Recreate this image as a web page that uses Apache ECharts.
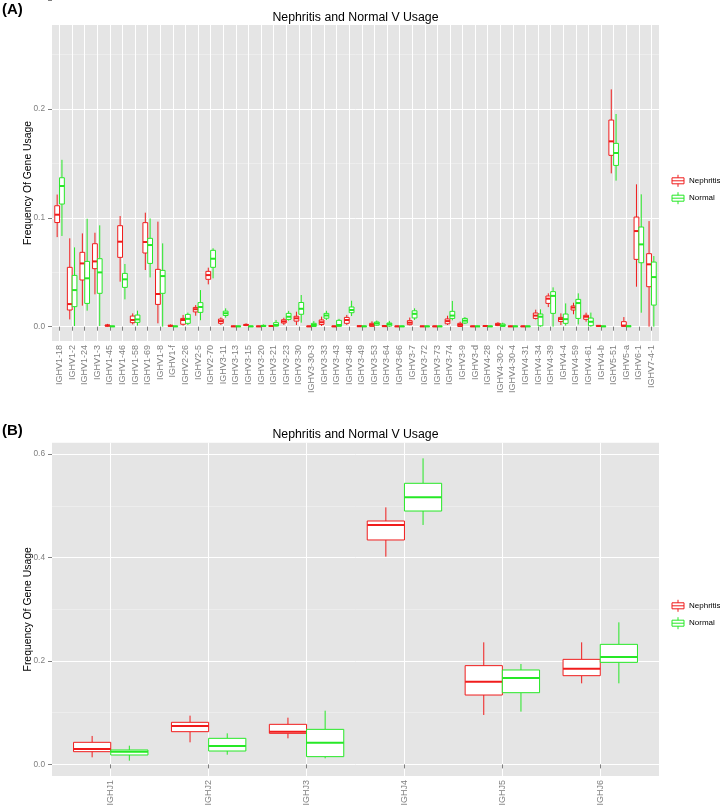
<!DOCTYPE html>
<html><head><meta charset="utf-8">
<script src="https://cdn.jsdelivr.net/npm/echarts@6/dist/echarts.min.js"></script>
<style>html,body{margin:0;padding:0;background:#fff}#c{width:720px;height:812px}</style>
</head><body><div id="c"></div>
<script>
// ---------- DATA ----------
const vGenes = ['IGHV1-18','IGHV1-2','IGHV1-24','IGHV1-3','IGHV1-45','IGHV1-46','IGHV1-58','IGHV1-69','IGHV1-8','IGHV1-f',
  'IGHV2-26','IGHV2-5','IGHV2-70','IGHV3-11','IGHV3-13','IGHV3-15','IGHV3-20','IGHV3-21','IGHV3-23','IGHV3-30',
  'IGHV3-30-3','IGHV3-33','IGHV3-43','IGHV3-48','IGHV3-49','IGHV3-53','IGHV3-64','IGHV3-66','IGHV3-7','IGHV3-72',
  'IGHV3-73','IGHV3-74','IGHV3-9','IGHV3-d','IGHV4-28','IGHV4-30-2','IGHV4-30-4','IGHV4-31','IGHV4-34','IGHV4-39',
  'IGHV4-4','IGHV4-59','IGHV4-61','IGHV4-b','IGHV5-51','IGHV5-a','IGHV6-1','IGHV7-4-1'];
// [lower whisker, Q1, median, Q3, upper whisker]
const nephritisV = [
  [0.080,0.093,0.100,0.108,0.118],[0.0065,0.0149,0.0202,0.053,0.0789],[0.0188,0.0417,0.0565,0.0664,0.0833],
  [0.0289,0.0518,0.0583,0.0741,0.0839],[0,0.0005,0.001,0.0015,0.0025],[0.0402,0.0619,0.0759,0.0902,0.0988],
  [0.002,0.0036,0.006,0.0095,0.0119],[0.0506,0.0658,0.0756,0.0929,0.1018],[0.003,0.0199,0.0292,0.0512,0.0938],
  [0,0.0004,0.0008,0.0012,0.002],[0.001,0.0022,0.006,0.0074,0.0105],[0.0098,0.0132,0.0156,0.0172,0.0193],
  [0.0378,0.0423,0.0461,0.0494,0.0527],[0.0015,0.003,0.005,0.0068,0.0083],[0,0.0001,0.0003,0.0005,0.0008],
  [0.0005,0.001,0.0016,0.002,0.003],[0,0.0001,0.0003,0.0005,0.0008],[0,0.0003,0.0006,0.001,0.0015],
  [0.0015,0.0033,0.0047,0.0062,0.008],[0.0015,0.005,0.0075,0.0093,0.0134],[0,0.0001,0.0003,0.0005,0.0008],
  [0.0006,0.002,0.004,0.006,0.009],[0,0.0001,0.0003,0.0005,0.0008],[0.0015,0.003,0.006,0.0083,0.0105],
  [0,0.0002,0.0004,0.0008,0.0012],[0,0.0003,0.0016,0.003,0.0048],[0,0.0002,0.0005,0.001,0.0015],
  [0,0.0001,0.0003,0.0005,0.0008],[0.0012,0.0018,0.0036,0.0054,0.0082],[0,0.0001,0.0003,0.0005,0.0008],
  [0,0.0001,0.0003,0.0005,0.0008],[0.0015,0.0026,0.005,0.0069,0.0098],[0,0.0002,0.0016,0.003,0.0045],
  [0,0.0001,0.0003,0.0005,0.0008],[0,0.0002,0.0006,0.0009,0.0013],[0.0005,0.001,0.002,0.003,0.004],
  [0,0.0001,0.0003,0.0005,0.0008],[0,0.0001,0.0003,0.0005,0.0008],[0.0065,0.0074,0.0099,0.0122,0.0152],
  [0.0175,0.0208,0.025,0.0274,0.0298],[0.0015,0.0046,0.0068,0.0083,0.0119],[0.0111,0.0149,0.0171,0.0185,0.0214],
  [0.0045,0.0066,0.0089,0.0102,0.0125],[0,0.0003,0.0007,0.0011,0.0015],[0.1369,0.153,0.1655,0.1845,0.2119],
  [0,0.0003,0.001,0.0045,0.0086],[0.0357,0.0601,0.0854,0.0979,0.1271],[0,0.0357,0.0557,0.0652,0.0943]
];
const normalV = [
  [0.081,0.1095,0.1256,0.133,0.149],[0.0006,0.0179,0.0327,0.0458,0.0708],[0.0143,0.0208,0.0432,0.0583,0.0964],
  [0.0006,0.0298,0.0485,0.0607,0.0905],[0,0.0001,0.0003,0.0005,0.0008],[0.0244,0.0351,0.0423,0.0476,0.056],
  [0.001,0.0039,0.0065,0.0104,0.0143],[0.044,0.0565,0.0729,0.0789,0.0967],[0,0.0298,0.0452,0.0503,0.0744],
  [0,0.0001,0.0003,0.0005,0.0008],[0.0015,0.003,0.007,0.011,0.0126],[0.0058,0.0128,0.0176,0.0215,0.0327],
  [0.0432,0.053,0.0607,0.0682,0.07],[0.008,0.01,0.012,0.0139,0.0164],[0,0.0001,0.0003,0.0005,0.0008],
  [0,0.0001,0.0003,0.0005,0.0008],[0,0.0002,0.0006,0.0012,0.002],[0,0.0005,0.0015,0.0036,0.006],
  [0.0054,0.0065,0.0089,0.0119,0.0141],[0.0036,0.0111,0.016,0.0216,0.0283],[0,0.0002,0.0015,0.003,0.005],
  [0.006,0.0076,0.01,0.0119,0.0142],[0,0.0003,0.0015,0.0057,0.007],[0.0095,0.0125,0.0149,0.0176,0.0232],
  [0,0.0001,0.0003,0.0005,0.0008],[0.0008,0.0014,0.003,0.0042,0.0055],[0,0.0006,0.0022,0.0033,0.0052],
  [0,0.0001,0.0003,0.0005,0.0008],[0.006,0.0078,0.0115,0.0142,0.0164],[0,0.0001,0.0003,0.0005,0.0008],
  [0,0.0001,0.0003,0.0005,0.0008],[0.0057,0.0074,0.0099,0.0137,0.023],[0.0024,0.0033,0.0054,0.0074,0.0086],
  [0,0.0001,0.0003,0.0005,0.0008],[0,0.0001,0.0003,0.0005,0.0008],[0,0.0003,0.0011,0.0024,0.0036],
  [0,0.0001,0.0003,0.0005,0.0008],[0,0.0001,0.0003,0.0005,0.0008],[0,0.0008,0.0089,0.0113,0.0155],
  [0,0.0119,0.0275,0.0313,0.0351],[0.001,0.003,0.0067,0.0113,0.0208],[0.002,0.0074,0.0211,0.0244,0.0298],
  [0,0.0009,0.0044,0.0077,0.0126],[0,0.0001,0.0003,0.0005,0.0008],[0.1304,0.144,0.1551,0.1637,0.1899],
  [0,0.0001,0.0004,0.0008,0.0012],[0.0125,0.0571,0.0735,0.089,0.1182],[0,0.0193,0.0443,0.0577,0.0631]
];
const jGenes = ['IGHJ1','IGHJ2','IGHJ3','IGHJ4','IGHJ5','IGHJ6'];
const nephritisJ = [
  [0.0137,0.0246,0.0298,0.0427,0.055],[0.0427,0.0633,0.0743,0.0814,0.0943],[0.0504,0.0601,0.0633,0.0775,0.0904],
  [0.4018,0.4341,0.4631,0.4708,0.4972],[0.0956,0.1342,0.16,0.191,0.2361],[0.1568,0.1716,0.1851,0.2032,0.2361]
];
const normalJ = [
  [0.0072,0.0182,0.0246,0.0279,0.0362],[0.0188,0.0259,0.0356,0.0504,0.0601],[0.0117,0.015,0.042,0.0678,0.1039],
  [0.4631,0.4901,0.5166,0.5437,0.592],[0.1021,0.1387,0.1671,0.1826,0.1942],[0.1568,0.1974,0.2077,0.2322,0.2748]
];
const yTickLabelsA = ['0.0','0.1','0.2'];
const yTickLabelsB = ['0.0','0.2','0.4','0.6'];
const seriesNames = ['Nephritis','Normal'];
const titleText = 'Nephritis and Normal V Usage';
const yTitle = 'Frequency Of Gene Usage';

// ---------- STYLE ----------
const RED = '#f01c1c', GREEN = '#26e826';
const FONT = 'Liberation Sans, Arial, Helvetica, sans-serif';
const PANEL = '#E5E5E5', GREY = '#7f7f7f';
const BOX_FRAC = 0.38;

function boxRender(side, color) {
  return function (params, api) {
    const i = api.value(0);
    const band = Math.abs(api.coord([1, 0])[0] - api.coord([0, 0])[0]);
    const w = band * BOX_FRAC;
    const cx = api.coord([i, 0])[0];
    const x0 = side < 0 ? cx - w : cx;
    const xm = x0 + w / 2;
    const yLo = api.coord([i, api.value(1)])[1];
    const yQ1 = api.coord([i, api.value(2)])[1];
    const yMd = api.coord([i, api.value(3)])[1];
    const yQ3 = api.coord([i, api.value(4)])[1];
    const yHi = api.coord([i, api.value(5)])[1];
    const ls = { stroke: color, lineWidth: 1 };
    return { type: 'group', children: [
      { type: 'line', shape: { x1: xm, y1: yHi, x2: xm, y2: yQ3 }, style: ls },
      { type: 'line', shape: { x1: xm, y1: yQ1, x2: xm, y2: yLo }, style: ls },
      { type: 'rect', shape: { x: x0, y: yQ3, width: w, height: Math.max(yQ1 - yQ3, 0.01) },
        style: { fill: '#fff', stroke: color, lineWidth: 1 } },
      { type: 'line', shape: { x1: x0, y1: yMd, x2: x0 + w, y2: yMd }, style: { stroke: color, lineWidth: 2 } }
    ]};
  };
}

// ---------- LAYOUT ----------
// panel A: x 52..659, y 25..341 ; 0 -> y 326.7, 0.1 -> 112 px
// panel B: x 52..659, y 442.7..776 ; 0 -> y 764.4, 0.2 -> 103.4 px
const PL = 52, PW = 607;
const A = { top: 25, h: 316, zeroY: 326.7, ppu: 1120, n: vGenes.length };
const B = { top: 442.7, h: 333.3, zeroY: 764.4, ppu: 517, n: jGenes.length };
function spacing(P) { return PW / (P.n - 1 + 1.2); }
function yMin(P) { return -(P.top + P.h - P.zeroY) / P.ppu; }
function yMax(P) { return (P.zeroY - P.top) / P.ppu; }

const sA = spacing(A), sB = spacing(B);
const axTopA = A.zeroY - 0.3 * A.ppu, axTopB = B.zeroY - 0.6 * B.ppu;
const YTITLE_EDGE = 33.5; // right edge (screen) of the rotated y-axis title

const grids = [
  { left: PL, top: A.top, width: PW, height: A.h, show: true, backgroundColor: PANEL, borderWidth: 0 },
  { left: PL, top: axTopA, width: PW, height: A.zeroY - axTopA, show: false },
  { left: PL + 0.6 * sA, top: A.top, width: (A.n - 1) * sA, height: A.h, show: false },
  { left: PL, top: B.top, width: PW, height: B.h, show: true, backgroundColor: PANEL, borderWidth: 0 },
  { left: PL, top: axTopB, width: PW, height: B.zeroY - axTopB, show: false },
  { left: PL + 0.6 * sB, top: B.top, width: (B.n - 1) * sB, height: B.h, show: false }
];

const hiddenX = (g) => ({ type: 'value', gridIndex: g, show: false, min: 0, max: 1 });
const hiddenY = (g) => ({ type: 'value', gridIndex: g, show: false, min: 0, max: 1 });
const catX = (g, cats) => ({
  type: 'category', gridIndex: g, data: cats, boundaryGap: false,
  axisLine: { show: false },
  axisTick: { show: true, length: 4, lineStyle: { color: GREY, width: 1 } },
  axisLabel: { rotate: 90, interval: 0, margin: 4, fontSize: 9, color: GREY, fontFamily: FONT },
  splitLine: { show: true, lineStyle: { color: '#ffffff', width: 1 } }
});
const tickY = (g, max, interval, labels) => ({
  type: 'value', gridIndex: g, min: 0, max: max, interval: interval,
  axisLine: { show: false },
  axisTick: { show: true, length: 4, lineStyle: { color: GREY, width: 1 } },
  axisLabel: { margin: 7, fontSize: 8.3, color: GREY, fontFamily: FONT,
    formatter: (v) => labels.indexOf(v.toFixed(1)) >= 0 ? v.toFixed(1) : '' },
  splitLine: { show: true, lineStyle: { color: '#ffffff', width: 1 } },
  minorTick: { show: false, splitNumber: 2 },
  minorSplitLine: { show: true, lineStyle: { color: '#F2F2F2', width: 0.6 } }
});
const dataY = (g, P, leftX) => ({
  type: 'value', gridIndex: g, min: yMin(P), max: yMax(P),
  axisLine: { show: false }, axisTick: { show: false }, axisLabel: { show: false }, splitLine: { show: false },
  name: yTitle, nameLocation: 'middle', nameRotate: 90, nameGap: leftX - YTITLE_EDGE,
  nameTextStyle: { fontSize: 10.4, color: '#000', fontFamily: FONT }
});

function mkSeries(name, data, axis, side, color) {
  return {
    type: 'custom', name: name, xAxisIndex: axis, yAxisIndex: axis,
    renderItem: boxRender(side, color),
    itemStyle: { color: color },
    encode: { x: 0, y: [1, 2, 3, 4, 5] },
    data: data.map((d, i) => [i].concat(d)),
    z: 5
  };
}

const ICON = 'path://M6,0L6,3M0,3L12,3L12,9L0,9ZM0,6L12,6M6,9L6,12';
function mkLegend(top) {
  return {
    orient: 'vertical', left: 671.5, top: top, padding: 0, itemWidth: 12, itemHeight: 12, itemGap: 4.4,
    selectedMode: false,
    textStyle: { fontSize: 8, color: '#000', fontFamily: FONT },
    data: [
      { name: seriesNames[0], icon: ICON, itemStyle: { color: '#fff', borderColor: RED, borderWidth: 1 } },
      { name: seriesNames[1], icon: ICON, itemStyle: { color: '#fff', borderColor: GREEN, borderWidth: 1 } }
    ]
  };
}

const option = {
  animation: false,
  backgroundColor: '#ffffff',
  textStyle: { fontFamily: FONT },
  title: [
    { text: '(A)', left: 2, top: 2, padding: 0, textStyle: { fontSize: 15, fontWeight: 'bold', color: '#000', fontFamily: FONT } },
    { text: titleText, left: PL + PW / 2, top: 11.5, padding: 0, textAlign: 'center',
      textStyle: { fontSize: 12.3, fontWeight: 'normal', color: '#000', fontFamily: FONT } },
    { text: '(B)', left: 2, top: 423.5, padding: 0, textStyle: { fontSize: 15, fontWeight: 'bold', color: '#000', fontFamily: FONT } },
    { text: titleText, left: PL + PW / 2, top: 429, padding: 0, textAlign: 'center',
      textStyle: { fontSize: 12.3, fontWeight: 'normal', color: '#000', fontFamily: FONT } }
  ],
  grid: grids,
  xAxis: [hiddenX(0), hiddenX(1), catX(2, vGenes), hiddenX(3), hiddenX(4), catX(5, jGenes)],
  yAxis: [hiddenY(0), tickY(1, 0.3, 0.1, yTickLabelsA), dataY(2, A, grids[2].left),
          hiddenY(3), tickY(4, 0.6, 0.2, yTickLabelsB), dataY(5, B, grids[5].left)],
  legend: [mkLegend(174.3), mkLegend(599.3)],
  series: [
    mkSeries(seriesNames[0], nephritisV, 2, -1, RED),
    mkSeries(seriesNames[1], normalV, 2, 1, GREEN),
    mkSeries(seriesNames[0], nephritisJ, 5, -1, RED),
    mkSeries(seriesNames[1], normalJ, 5, 1, GREEN)
  ]
};
const chart = echarts.init(document.getElementById('c'), null, { renderer: 'canvas' });
chart.setOption(option);
</script></body></html>
